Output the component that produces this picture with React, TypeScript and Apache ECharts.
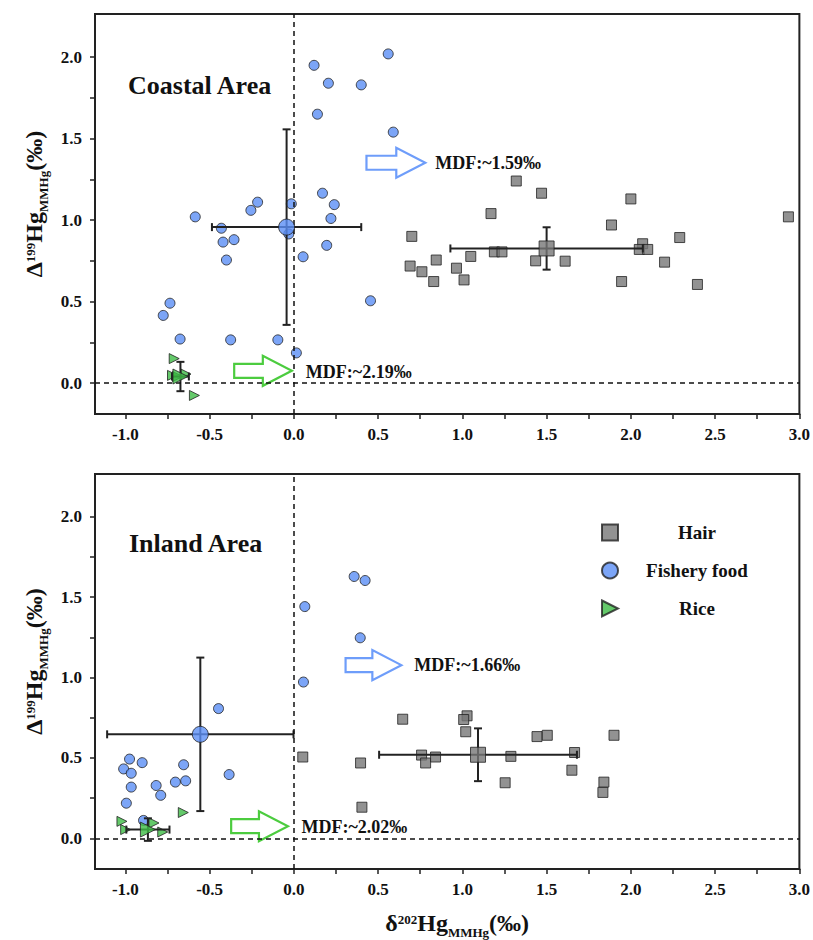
import React, { useEffect, useRef } from "react";
import * as echarts from "echarts";

// ---------- axis ticks / labels ----------
const xTickValues = [-1, -0.75, -0.5, -0.25, 0, 0.25, 0.5, 0.75, 1, 1.25, 1.5, 1.75, 2, 2.25, 2.5, 2.75, 3];
const xLabelValues = [-1, -0.5, 0, 0.5, 1, 1.5, 2, 2.5, 3];
const yTickValues = [0, 0.25, 0.5, 0.75, 1, 1.25, 1.5, 1.75, 2];
const yLabelValues = [0, 0.5, 1, 1.5, 2];

// ---------- Coastal area ----------
const coastalHair: number[][] = [
  [1.32, 1.24], [1.47, 1.165], [2.0, 1.13], [1.17, 1.04], [2.935, 1.02], [1.885, 0.97],
  [0.70, 0.90], [2.29, 0.893], [2.07, 0.855], [1.19, 0.805], [1.235, 0.805], [2.05, 0.82],
  [2.10, 0.82], [1.05, 0.777], [0.845, 0.755], [1.435, 0.75], [1.61, 0.748], [2.20, 0.742],
  [0.69, 0.718], [0.965, 0.705], [0.76, 0.683], [1.01, 0.633], [0.83, 0.623], [1.945, 0.623],
  [2.395, 0.605],
];
const coastalFishery: number[][] = [
  [0.56, 2.02], [0.12, 1.95], [0.205, 1.84], [0.40, 1.83], [0.14, 1.65], [0.59, 1.54],
  [0.17, 1.165], [-0.215, 1.11], [-0.015, 1.10], [0.24, 1.095], [-0.255, 1.06], [-0.585, 1.02],
  [0.22, 1.01], [-0.43, 0.95], [-0.03, 0.915], [-0.355, 0.88], [-0.42, 0.865], [0.195, 0.845],
  [0.055, 0.775], [-0.40, 0.755], [0.455, 0.505], [-0.735, 0.49], [-0.775, 0.415],
  [-0.675, 0.27], [-0.375, 0.265], [-0.095, 0.265], [0.015, 0.185],
];
const coastalRice: number[][] = [
  [-0.71, 0.15], [-0.72, 0.047], [-0.69, 0.04], [-0.64, 0.055], [-0.59, -0.076],
];
// [x, y, xErr, yErr]
const coastalHairMean = [1.50, 0.826, 0.571, 0.13];
const coastalFisheryMean = [-0.043, 0.957, 0.443, 0.60];
const coastalRiceMean = [-0.673, 0.04, 0.05, 0.09];
// [x0, x1, y]
const coastalArrowBlue = [0.431, 0.78, 1.352];
const coastalArrowGreen = [-0.354, -0.012, 0.075];
// [x, y]
const coastalTextBlue = [0.839, 1.352];
const coastalTextGreen = [0.071, 0.07];
const coastalMdf = ["MDF:~1.59‰", "MDF:~2.19‰"];

// ---------- Inland area ----------
const inlandHair: number[][] = [
  [0.053, 0.506], [0.396, 0.469], [0.404, 0.194], [0.646, 0.741], [0.758, 0.518],
  [0.782, 0.469], [0.841, 0.506], [1.028, 0.762], [1.008, 0.739], [1.02, 0.663],
  [1.254, 0.346], [1.288, 0.51], [1.443, 0.633], [1.504, 0.641], [1.666, 0.534],
  [1.65, 0.424], [1.84, 0.35], [1.834, 0.286], [1.90, 0.641],
];
const inlandFishery: number[][] = [
  [0.358, 1.628], [0.423, 1.603], [0.065, 1.441], [0.394, 1.247], [0.057, 0.972],
  [-0.447, 0.807], [-0.384, 0.397], [-0.975, 0.493], [-0.90, 0.471], [-0.654, 0.458],
  [-1.01, 0.432], [-0.965, 0.405], [-0.703, 0.35], [-0.642, 0.358], [-0.817, 0.329],
  [-0.965, 0.319], [-0.79, 0.268], [-0.994, 0.219], [-0.892, 0.112],
];
const inlandRice: number[][] = [
  [-1.02, 0.106], [-0.998, 0.055], [-0.83, 0.096], [-0.778, 0.04], [-0.656, 0.161],
];
const inlandHairMean = [1.093, 0.52, 0.587, 0.164];
const inlandFisheryMean = [-0.555, 0.647, 0.553, 0.477];
const inlandRiceMean = [-0.866, 0.055, 0.128, 0.07];
const inlandArrowBlue = [0.307, 0.638, 1.077];
const inlandArrowGreen = [-0.372, -0.035, 0.076];
const inlandTextBlue = [0.715, 1.077];
const inlandTextGreen = [0.045, 0.07];
const inlandMdf = ["MDF:~1.66‰", "MDF:~2.02‰"];

const panelTitles = ["Coastal Area", "Inland Area"];
const legendNames = ["Hair", "Fishery food", "Rice"];

// ---------- styles ----------
const SERIF = '"Liberation Serif", "Times New Roman", serif';
const HAIR_COLOR = "#777777";
const FISH_COLOR = "#5b8ff5";
const RICE_COLOR = "#3dbb45";
const BLUE_ARROW = "#6e9dfa";
const GREEN_ARROW = "#4ccc3f";
const INK = "#222222";
const RIGHT_TRIANGLE = "path://M0,0L10,5L0,10Z";

const nameRich = {
  m: { fontSize: 24, fontWeight: "bold", fontFamily: SERIF, color: "#111", lineHeight: 24, verticalAlign: "top" },
  sup: { fontSize: 13, fontWeight: "bold", fontFamily: SERIF, color: "#111", lineHeight: 13, verticalAlign: "top", padding: [2, 0, 0, 0] },
  sub: { fontSize: 13, fontWeight: "bold", fontFamily: SERIF, color: "#111", lineHeight: 13, verticalAlign: "top", padding: [15, 0, 0, 0] },
};

function errorBarRender(params: any, api: any) {
  const x = api.value(0), y = api.value(1), ex = api.value(2), ey = api.value(3);
  const l = api.coord([x - ex, y]);
  const r = api.coord([x + ex, y]);
  const t = api.coord([x, y + ey]);
  const b = api.coord([x, y - ey]);
  const c = 4;
  const st = { stroke: INK, lineWidth: 2 };
  return {
    type: "group",
    children: [
      { type: "line", shape: { x1: l[0], y1: l[1], x2: r[0], y2: r[1] }, style: st },
      { type: "line", shape: { x1: t[0], y1: t[1], x2: b[0], y2: b[1] }, style: st },
      { type: "line", shape: { x1: l[0], y1: l[1] - c, x2: l[0], y2: l[1] + c }, style: st },
      { type: "line", shape: { x1: r[0], y1: r[1] - c, x2: r[0], y2: r[1] + c }, style: st },
      { type: "line", shape: { x1: t[0] - c, y1: t[1], x2: t[0] + c, y2: t[1] }, style: st },
      { type: "line", shape: { x1: b[0] - c, y1: b[1], x2: b[0] + c, y2: b[1] }, style: st },
    ],
  };
}

function arrowRender(color: string, text: string, textPos: number[]) {
  return (params: any, api: any) => {
    const p0 = api.coord([api.value(0), api.value(2)]);
    const p1 = api.coord([api.value(1), api.value(2)]);
    const tp = api.coord(textPos);
    const y = p0[1];
    const hs = 7, hh = 15, hl = 29;
    const xh = p1[0] - hl;
    return {
      type: "group",
      children: [
        {
          type: "polygon",
          shape: {
            points: [
              [p0[0], y - hs], [xh, y - hs], [xh, y - hh], [p1[0], y],
              [xh, y + hh], [xh, y + hs], [p0[0], y + hs],
            ],
          },
          style: { fill: "rgba(255,255,255,0)", stroke: color, lineWidth: 2.2 },
        },
        {
          type: "text",
          x: tp[0],
          y: tp[1],
          style: {
            text,
            fontSize: 18,
            fontWeight: "bold",
            fontFamily: SERIF,
            fill: "#111",
            align: "left",
            verticalAlign: "middle",
          },
        },
      ],
    };
  };
}

function panelSeries(
  idx: number,
  hair: number[][], fish: number[][], rice: number[][],
  hairMean: number[], fishMean: number[], riceMean: number[],
  arrowBlue: number[], arrowGreen: number[],
  textBlue: number[], textGreen: number[], mdf: string[]
) {
  const base = { xAxisIndex: idx, yAxisIndex: idx };
  const border = { borderColor: INK, borderWidth: 1 };
  return [
    {
      ...base, type: "scatter", name: "Hair", data: hair, symbol: "rect", symbolSize: 10,
      itemStyle: { color: HAIR_COLOR, ...border }, z: 3,
      markLine: {
        silent: true, symbol: "none", label: { show: false },
        lineStyle: { type: [5, 4], color: "#111", width: 1.5 },
        data: [{ xAxis: 0 }, { yAxis: 0 }],
      },
    },
    {
      ...base, type: "scatter", name: "Fishery food", data: fish, symbol: "circle", symbolSize: 10,
      itemStyle: { color: FISH_COLOR, ...border }, z: 3,
    },
    {
      ...base, type: "scatter", name: "Rice", data: rice, symbol: "triangle", symbolSize: 10, symbolRotate: -90,
      itemStyle: { color: RICE_COLOR, ...border }, z: 3,
    },
    {
      ...base, type: "custom", name: "errbars", renderItem: errorBarRender,
      data: [hairMean, fishMean, riceMean], z: 4, silent: true,
      encode: { x: 0, y: 1 },
    },
    {
      ...base, type: "scatter", name: "Hair mean", data: [hairMean.slice(0, 2)], symbol: "rect", symbolSize: 15,
      itemStyle: { color: HAIR_COLOR, ...border }, z: 5,
    },
    {
      ...base, type: "scatter", name: "Fishery food mean", data: [fishMean.slice(0, 2)], symbol: "circle", symbolSize: 16,
      itemStyle: { color: FISH_COLOR, ...border }, z: 5,
    },
    {
      ...base, type: "scatter", name: "Rice mean", data: [riceMean.slice(0, 2)], symbol: "triangle", symbolSize: 15, symbolRotate: -90,
      itemStyle: { color: RICE_COLOR, ...border }, z: 5,
    },
    {
      ...base, type: "custom", name: "arrowBlue", renderItem: arrowRender(BLUE_ARROW, mdf[0], textBlue),
      data: [arrowBlue], z: 2, silent: true, encode: { x: [0, 1], y: 2 },
    },
    {
      ...base, type: "custom", name: "arrowGreen", renderItem: arrowRender(GREEN_ARROW, mdf[1], textGreen),
      data: [arrowGreen], z: 2, silent: true, encode: { x: [0, 1], y: 2 },
    },
  ];
}

const labelFont = { fontSize: 17, fontWeight: "bold", fontFamily: SERIF, color: "#111" };

function xAxisFor(idx: number, withName: boolean) {
  return {
    type: "value", gridIndex: idx, min: -1.18, max: 3.0,
    axisLine: { show: true, onZero: false, lineStyle: { color: INK, width: 2 } },
    axisTick: { show: true, inside: false, length: 5, customValues: xTickValues, lineStyle: { color: INK, width: 1.5 } },
    axisLabel: { ...labelFont, margin: 12, customValues: xLabelValues, formatter: (v: number) => v.toFixed(1) },
    splitLine: { show: false },
    name: withName ? "{m|δ}{sup|202}{m|Hg}{sub|MMHg}{m|(‰)}" : "",
    nameLocation: "middle",
    nameGap: 42,
    nameTextStyle: { rich: nameRich, padding: [0, 0, 0, 20] },
  };
}

function yAxisFor(idx: number) {
  return {
    type: "value", gridIndex: idx, min: -0.19, max: 2.265,
    axisLine: { show: true, onZero: false, lineStyle: { color: INK, width: 2 } },
    axisTick: { show: true, inside: false, length: 5, customValues: yTickValues, lineStyle: { color: INK, width: 1.5 } },
    axisLabel: { ...labelFont, margin: 13, customValues: yLabelValues, formatter: (v: number) => v.toFixed(1) },
    splitLine: { show: false },
    name: "{m|Δ}{sup|199}{m|Hg}{sub|MMHg}{m|(‰)}",
    nameLocation: "middle",
    nameRotate: 90,
    nameGap: 47,
    nameTextStyle: { rich: nameRich, padding: [0, 0, 0, 20] },
  };
}

export default function App() {
  const ref = useRef<HTMLDivElement>(null);

  useEffect(() => {
    if (!ref.current) return;
    const chart = echarts.init(ref.current, undefined, { renderer: "svg" });
    const option: any = {
      animation: false,
      backgroundColor: "#ffffff",
      textStyle: { fontFamily: SERIF },
      grid: [
        { left: 95, right: 12, top: 14, height: 400, show: true, borderColor: INK, borderWidth: 2, backgroundColor: "transparent" },
        { left: 95, right: 12, top: 474, height: 398, show: true, borderColor: INK, borderWidth: 2, backgroundColor: "transparent" },
      ],
      xAxis: [xAxisFor(0, false), xAxisFor(1, true)],
      yAxis: [yAxisFor(0), yAxisFor(1)],
      legend: {
        data: [
          { name: legendNames[0] },
          { name: legendNames[1] },
          { name: legendNames[2], icon: RIGHT_TRIANGLE },
        ],
        orient: "vertical",
        left: 596,
        top: 518,
        itemWidth: 16,
        itemHeight: 16,
        itemGap: 19,
        selectedMode: false,
        formatter: (name: string) => `{t|${name}}`,
        textStyle: {
          rich: {
            t: { width: 148, align: "center", fontSize: 19, fontWeight: "bold", fontFamily: SERIF, color: "#111" },
          },
        },
      },
      graphic: [
        {
          type: "text", left: 128, top: 72,
          style: { text: panelTitles[0], fontSize: 26, fontWeight: "bold", fontFamily: SERIF, fill: "#111" },
        },
        {
          type: "text", left: 129, top: 530,
          style: { text: panelTitles[1], fontSize: 26, fontWeight: "bold", fontFamily: SERIF, fill: "#111" },
        },
      ],
      series: [
        ...panelSeries(0, coastalHair, coastalFishery, coastalRice, coastalHairMean, coastalFisheryMean, coastalRiceMean,
          coastalArrowBlue, coastalArrowGreen, coastalTextBlue, coastalTextGreen, coastalMdf),
        ...panelSeries(1, inlandHair, inlandFishery, inlandRice, inlandHairMean, inlandFisheryMean, inlandRiceMean,
          inlandArrowBlue, inlandArrowGreen, inlandTextBlue, inlandTextGreen, inlandMdf),
      ],
    };
    chart.setOption(option);
    return () => chart.dispose();
  }, []);

  return (
    <div
      ref={ref}
      style={{ position: "absolute", left: 0, top: 0, width: 813, height: 940, background: "#fff" }}
    />
  );
}
